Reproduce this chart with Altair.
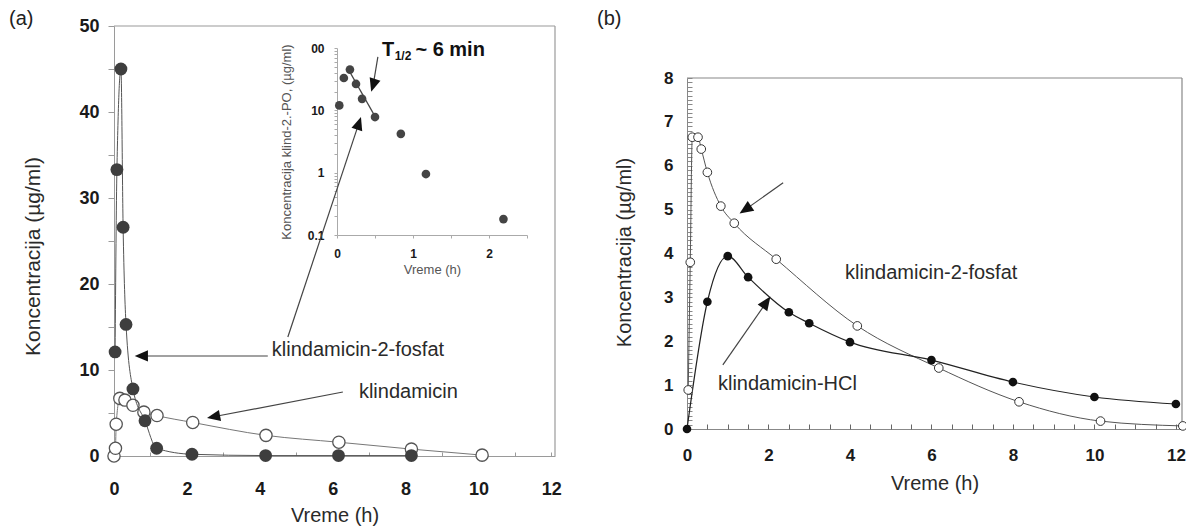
import altair as alt
import pandas as pd

W, H = 1186, 529
FONT = "Liberation Sans"

# ---------------- Panel (a): linear concentrations ----------------
A_T_FOSFAT = [0.03, 0.08, 0.19, 0.25, 0.33, 0.52, 0.85, 1.17, 2.14, 4.16, 6.16, 8.16]
A_C_FOSFAT = [12.1, 33.3, 45.0, 26.6, 15.3, 7.8, 4.1, 0.9, 0.2, 0.05, 0.05, 0.05]
A_T_KLIND = [0.0, 0.04, 0.06, 0.16, 0.30, 0.52, 0.82, 1.18, 2.16, 4.17, 6.17, 8.16, 10.1]
A_C_KLIND = [0.0, 0.9, 3.7, 6.7, 6.5, 5.9, 5.1, 4.7, 3.9, 2.4, 1.6, 0.8, 0.1]
A_X_DOMAIN = [0, 12.1]
A_Y_DOMAIN = [0, 50]
A_X_TICKS = [0, 2, 4, 6, 8, 10, 12]
A_X_MINOR = list(range(0, 13))
A_Y_TICKS = [0, 5, 10, 15, 20, 25, 30, 35, 40, 45, 50]

# annotations of panel (a) (data units of panel a)
A_LABELS = ["klindamicin-2-fosfat", "klindamicin"]
A_LABEL_T = [4.33, 6.72]
A_LABEL_C = [12.3, 7.44]
A_ARROW_T0 = [4.22, 6.28, 4.77, 7.24]
A_ARROW_C0 = [11.63, 7.44, 13.84, 46.4]
A_ARROW_T1 = [0.75, 2.73, 6.72, 7.11]
A_ARROW_C1 = [11.63, 4.56, 38.7, 43.1]
A_ARROW_DIR = [270, 259, 18, 197]

# ---------------- Inset: log concentrations of klind-2-PO4 ----------------
IN_T = [0.03, 0.09, 0.17, 0.25, 0.33, 0.50, 0.84, 1.17, 2.19]
IN_C = [12.0, 33.0, 45.0, 26.5, 15.3, 7.8, 4.2, 0.95, 0.18]
IN_FIT_T = [0.17, 0.50]
IN_FIT_C = [41.0, 8.0]
IN_X_DOMAIN = [0, 2.5]
IN_Y_DOMAIN = [0.1, 100]
IN_X_TICKS = [0, 0.5, 1, 1.5, 2, 2.5]
IN_Y_TICKS = [0.1, 0.2, 0.3, 0.4, 0.5, 0.6, 0.7, 0.8, 0.9,
              1, 2, 3, 4, 5, 6, 7, 8, 9,
              10, 20, 30, 40, 50, 60, 70, 80, 90, 100]

# ---------------- Panel (b) ----------------
B_T_FOSFAT = [0.03, 0.08, 0.13, 0.27, 0.35, 0.50, 0.83, 1.16, 2.19, 4.18, 6.18, 8.15, 10.15, 12.17]
B_C_FOSFAT = [0.89, 3.8, 6.65, 6.65, 6.38, 5.85, 5.08, 4.69, 3.87, 2.35, 1.39, 0.62, 0.18, 0.07]
B_T_HCL = [0, 0.5, 1, 1.5, 2.5, 3, 4, 6, 8, 10, 12]
B_C_HCL = [0, 2.9, 3.94, 3.46, 2.66, 2.41, 1.98, 1.57, 1.07, 0.73, 0.57]
B_X_DOMAIN = [0, 12.15]
B_Y_DOMAIN = [0, 8]
B_X_TICKS = [0, 2, 4, 6, 8, 10, 12]
B_Y_TICKS = [0, 1, 2, 3, 4, 5, 6, 7, 8]
B_X_MINOR = [i * 0.5 for i in range(0, 25)]
B_Y_MINOR = [round(i * 0.1, 1) for i in range(0, 81)]

B_LABELS = ["klindamicin-2-fosfat", "klindamicin-HCl"]
B_LABEL_T = [3.88, 0.76]
B_LABEL_C = [3.56, 1.03]
B_ARROW_T0 = [2.36, 0.88]
B_ARROW_C0 = [5.61, 1.46]
B_ARROW_T1 = [1.43, 1.95]
B_ARROW_C1 = [5.0, 2.89]
B_ARROW_DIR = [236, 35]

ARROW = "M0,-1L0.85,1L-0.85,1Z"

# ---------------- pixel placement of each plot region ----------------
A_XR, A_YR = [114, 555], [456, 26]
IN_XR, IN_YR = [337, 527], [235, 48]
B_XR, B_YR = [687, 1182], [429, 78]


def sc(domain, rng, kind="linear"):
    return alt.Scale(type=kind, domain=domain, range=rng, nice=False, zero=False)


common_axis = dict(grid=False, labelOverlap=False, labelFlush=False, labelBound=False,
                   labelFont=FONT, titleFont=FONT, labelFontWeight="bold",
                   titleFontWeight="normal", labelColor="#1a1a1a", titleColor="#2a2a2a")

# ---------- panel (a) ----------
ax_a_x = alt.Axis(orient="bottom", offset=-(H - A_YR[0]), values=A_X_TICKS, tickSize=0,
                  labelPadding=24, labelFontSize=18, domainColor="#9a9a9a",
                  title="Vreme (h)", titleFontSize=20, titlePadding=7, **common_axis)
ax_a_y = alt.Axis(orient="left", offset=-A_XR[0], values=A_Y_TICKS, tickSize=6,
                  tickColor="#9a9a9a", domainColor="#9a9a9a", labelPadding=9,
                  labelFontSize=18,
                  labelExpr="datum.value % 10 == 0 ? datum.label : ''",
                  title="Koncentracija (µg/ml)", titleFontSize=21, titleX=-71, titleY=256,
                  **common_axis)


def xa(f):
    return alt.X(f, scale=sc(A_X_DOMAIN, A_XR), axis=ax_a_x)


def ya(f):
    return alt.Y(f, scale=sc(A_Y_DOMAIN, A_YR), axis=ax_a_y)


df_a_f = pd.DataFrame({"t": A_T_FOSFAT, "c": A_C_FOSFAT})
df_a_k = pd.DataFrame({"t": A_T_KLIND, "c": A_C_KLIND})
df_a_frame = pd.DataFrame({"t": [A_X_DOMAIN[0], A_X_DOMAIN[1]], "c": [A_Y_DOMAIN[1], A_Y_DOMAIN[0]],
                           "t2": [A_X_DOMAIN[1], A_X_DOMAIN[1]], "c2": [A_Y_DOMAIN[1], A_Y_DOMAIN[1]]})
df_a_arr = pd.DataFrame({"t": A_ARROW_T0, "c": A_ARROW_C0, "t2": A_ARROW_T1,
                         "c2": A_ARROW_C1, "ang": A_ARROW_DIR})
df_a_lab = pd.DataFrame({"t": A_LABEL_T, "c": A_LABEL_C, "s": A_LABELS})

a_frame = alt.Chart(df_a_frame).mark_rule(color="#9a9a9a", strokeWidth=1.2).encode(
    x=xa("t:Q"), y=ya("c:Q"), x2="t2:Q", y2="c2:Q")
a_kline = alt.Chart(df_a_k).mark_line(color="#777777", strokeWidth=1, interpolate="monotone").encode(
    x=xa("t:Q"), y=ya("c:Q"))
a_kpts = alt.Chart(df_a_k).mark_point(filled=True, fill="white", stroke="#555555", strokeWidth=1.3,
                                      size=150, opacity=1).encode(x=xa("t:Q"), y=ya("c:Q"))
a_fline = alt.Chart(df_a_f).mark_line(color="#555555", strokeWidth=1, interpolate="monotone").encode(
    x=xa("t:Q"), y=ya("c:Q"))
a_fpts = alt.Chart(df_a_f).mark_circle(color="#3e3e3e", size=165, opacity=1).encode(
    x=xa("t:Q"), y=ya("c:Q"))
a_arr_line = alt.Chart(df_a_arr).mark_rule(color="#444444", strokeWidth=1.2).encode(
    x=xa("t:Q"), y=ya("c:Q"), x2="t2:Q", y2="c2:Q")
a_arr_head = alt.Chart(df_a_arr).mark_point(shape=ARROW, filled=True, fill="#111111",
                                            size=175, opacity=1).encode(
    x=xa("t2:Q"), y=ya("c2:Q"), angle=alt.Angle("ang:Q", scale=None))
a_text = alt.Chart(df_a_lab).mark_text(align="left", baseline="middle", font=FONT, fontSize=20,
                                       color="#2a2a2a").encode(
    x=xa("t:Q"), y=ya("c:Q"), text="s:N")

# T1/2 label (panel a data units)
df_t = pd.DataFrame({"t": [7.35], "c": [47.2], "s": ["T"]})
df_t_sub = pd.DataFrame({"t": [7.70], "c": [46.5], "s": ["1/2"]})
df_t_rest = pd.DataFrame({"t": [8.27], "c": [47.2], "s": ["~ 6 min"]})
t_main = alt.Chart(df_t).mark_text(align="left", baseline="middle", font=FONT, fontSize=20,
                                   fontWeight="bold", color="#111").encode(
    x=xa("t:Q"), y=ya("c:Q"), text="s:N")
t_sub = alt.Chart(df_t_sub).mark_text(align="left", baseline="middle", font=FONT, fontSize=12,
                                      fontWeight="bold", color="#111").encode(
    x=xa("t:Q"), y=ya("c:Q"), text="s:N")
t_rest = alt.Chart(df_t_rest).mark_text(align="left", baseline="middle", font=FONT, fontSize=20,
                                        fontWeight="bold", color="#111").encode(
    x=xa("t:Q"), y=ya("c:Q"), text="s:N")

panel_a = alt.layer(a_frame, a_kline, a_kpts, a_fline, a_fpts, a_arr_line, a_arr_head,
                    a_text, t_main, t_sub, t_rest)

# inward minor ticks of panel (a) x axis
a_ticks = alt.Chart(df_a_f).mark_point(opacity=0).encode(
    x=alt.X("t:Q", scale=sc(A_X_DOMAIN, A_XR),
            axis=alt.Axis(orient="bottom", offset=-(H - A_YR[0]) - 4, values=A_X_MINOR,
                          tickSize=4, tickColor="#9a9a9a", labels=False, domain=False,
                          title=None, grid=False)),
    y=alt.Y("c:Q", scale=sc(A_Y_DOMAIN, A_YR), axis=None))

# ---------- inset ----------
inset_axis = {k: v for k, v in common_axis.items() if k != "titleColor"}
ax_i_x = alt.Axis(orient="bottom", offset=-(H - IN_YR[0]), values=IN_X_TICKS, tickSize=3,
                  tickColor="#aaaaaa", domainColor="#aaaaaa", labelPadding=10, labelFontSize=12,
                  labelExpr="datum.value % 1 == 0 ? format(datum.value, 'd') : ''",
                  title="Vreme (h)", titleFontSize=13, titlePadding=4, titleColor="#555555",
                  **inset_axis)
ax_i_y = alt.Axis(orient="left", offset=-IN_XR[0], values=IN_Y_TICKS, tickSize=3,
                  tickColor="#aaaaaa", domainColor="#aaaaaa", labelPadding=10, labelFontSize=12,
                  labelExpr="datum.value == 0.1 ? '0.1' : datum.value == 1 ? '1' : "
                            "datum.value == 10 ? '10' : datum.value == 100 ? '00' : ''",
                  title="Koncentracija klind-2.-PO, (µg/ml)", titleFontSize=13, titleX=-44,
                  titleColor="#555555", **inset_axis)


def xi(f):
    return alt.X(f, scale=sc(IN_X_DOMAIN, IN_XR), axis=ax_i_x)


def yi(f):
    return alt.Y(f, scale=sc(IN_Y_DOMAIN, IN_YR, "log"), axis=ax_i_y)


df_in = pd.DataFrame({"t": IN_T, "c": IN_C})
df_fit = pd.DataFrame({"t": IN_FIT_T, "c": IN_FIT_C})
i_fit = alt.Chart(df_fit).mark_line(color="#444444", strokeWidth=1.2).encode(x=xi("t:Q"), y=yi("c:Q"))
i_pts = alt.Chart(df_in).mark_circle(color="#444444", size=75, opacity=1).encode(
    x=xi("t:Q"), y=yi("c:Q"))
inset = alt.layer(i_fit, i_pts)

# ---------- panel (b) ----------
ax_b_x = alt.Axis(orient="bottom", offset=-(H - B_YR[0]), values=B_X_TICKS, tickSize=0,
                  labelPadding=18, labelFontSize=17, domainColor="#888888",
                  title="Vreme (h)", titleFontSize=20, titlePadding=10, **common_axis)
ax_b_y = alt.Axis(orient="left", offset=-B_XR[0], values=B_Y_TICKS, tickSize=0,
                  domainColor="#888888", labelPadding=14, labelFontSize=17,
                  title="Koncentracija (µg/ml)", titleFontSize=20, titleX=-53, titleY=252,
                  **common_axis)


def xb(f):
    return alt.X(f, scale=sc(B_X_DOMAIN, B_XR), axis=ax_b_x)


def yb(f):
    return alt.Y(f, scale=sc(B_Y_DOMAIN, B_YR), axis=ax_b_y)


df_b_f = pd.DataFrame({"t": B_T_FOSFAT, "c": B_C_FOSFAT})
df_b_h = pd.DataFrame({"t": B_T_HCL, "c": B_C_HCL})
df_b_frame = pd.DataFrame({"t": [B_X_DOMAIN[0], B_X_DOMAIN[1]], "c": [B_Y_DOMAIN[1], B_Y_DOMAIN[0]],
                           "t2": [B_X_DOMAIN[1], B_X_DOMAIN[1]], "c2": [B_Y_DOMAIN[1], B_Y_DOMAIN[1]]})
df_b_arr = pd.DataFrame({"t": B_ARROW_T0, "c": B_ARROW_C0, "t2": B_ARROW_T1,
                         "c2": B_ARROW_C1, "ang": B_ARROW_DIR})
df_b_lab = pd.DataFrame({"t": B_LABEL_T, "c": B_LABEL_C, "s": B_LABELS})

b_frame = alt.Chart(df_b_frame).mark_rule(color="#888888", strokeWidth=1.2).encode(
    x=xb("t:Q"), y=yb("c:Q"), x2="t2:Q", y2="c2:Q")
b_fline = alt.Chart(df_b_f).mark_line(color="#555555", strokeWidth=1, interpolate="monotone").encode(
    x=xb("t:Q"), y=yb("c:Q"))
b_hline = alt.Chart(df_b_h).mark_line(color="#222222", strokeWidth=1.2, interpolate="monotone").encode(
    x=xb("t:Q"), y=yb("c:Q"))
b_fpts = alt.Chart(df_b_f).mark_point(filled=True, fill="white", stroke="#333333", strokeWidth=1,
                                      size=75, opacity=1).encode(x=xb("t:Q"), y=yb("c:Q"))
b_hpts = alt.Chart(df_b_h).mark_circle(color="#111111", size=75, opacity=1).encode(
    x=xb("t:Q"), y=yb("c:Q"))
b_arr_line = alt.Chart(df_b_arr).mark_rule(color="#444444", strokeWidth=1.2).encode(
    x=xb("t:Q"), y=yb("c:Q"), x2="t2:Q", y2="c2:Q")
b_arr_head = alt.Chart(df_b_arr).mark_point(shape=ARROW, filled=True, fill="#111111",
                                            size=190, opacity=1).encode(
    x=xb("t2:Q"), y=yb("c2:Q"), angle=alt.Angle("ang:Q", scale=None))
b_text = alt.Chart(df_b_lab).mark_text(align="left", baseline="middle", font=FONT, fontSize=20,
                                       color="#2a2a2a").encode(
    x=xb("t:Q"), y=yb("c:Q"), text="s:N")

panel_b = alt.layer(b_frame, b_fline, b_hline, b_fpts, b_hpts, b_arr_line, b_arr_head, b_text)

# inward ticks of panel (b)
b_ticks = alt.Chart(df_b_h).mark_point(opacity=0).encode(
    x=alt.X("t:Q", scale=sc(B_X_DOMAIN, B_XR),
            axis=alt.Axis(orient="bottom", offset=-(H - B_YR[0]) - 5, values=B_X_MINOR,
                          tickSize=5, tickColor="#666666", labels=False, domain=False,
                          title=None, grid=False)),
    y=alt.Y("c:Q", scale=sc(B_Y_DOMAIN, B_YR),
            axis=alt.Axis(orient="left", offset=-B_XR[0] - 5, values=B_Y_MINOR,
                          tickSize=5, tickColor="#888888", labels=False, domain=False,
                          title=None, grid=False)))

# panel letters
PANEL_LETTERS = ["(a)", "(b)"]
lab_a = alt.Chart(pd.DataFrame({"s": [PANEL_LETTERS[0]]})).mark_text(
    align="left", baseline="top", font=FONT, fontSize=20, color="#222").encode(
    x=alt.value(9), y=alt.value(9), text="s:N")
lab_b = alt.Chart(pd.DataFrame({"s": [PANEL_LETTERS[1]]})).mark_text(
    align="left", baseline="top", font=FONT, fontSize=20, color="#222").encode(
    x=alt.value(597), y=alt.value(9), text="s:N")

chart = alt.layer(panel_a, a_ticks, inset, panel_b, b_ticks, lab_a, lab_b).resolve_scale(
    x="independent", y="independent"
).properties(
    width=W, height=H, padding=0, autosize=alt.AutoSizeParams(type="none"), background="white"
).configure_view(stroke=None)

chart.save("out.html", embed_options={"renderer": "svg", "actions": False})
